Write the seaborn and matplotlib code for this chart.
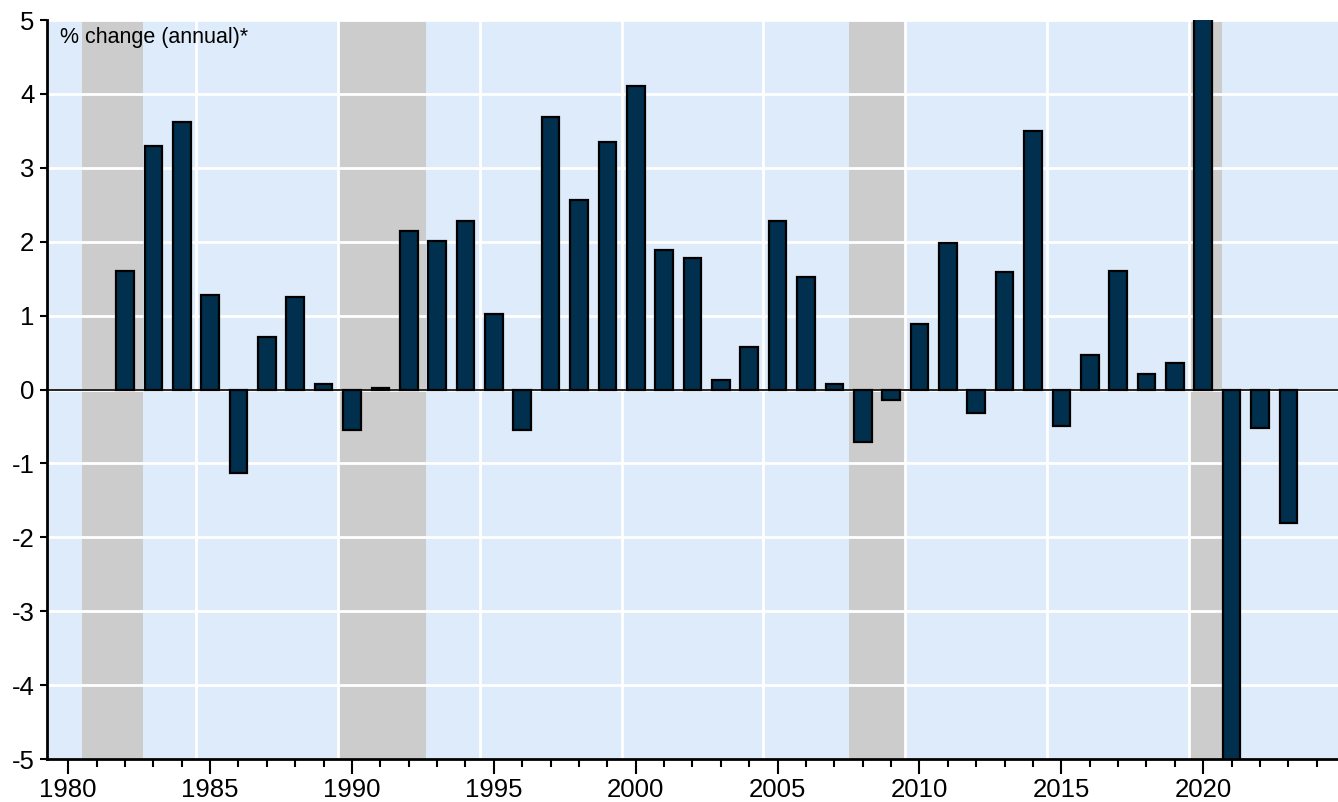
import numpy as np
import pandas as pd
import matplotlib
matplotlib.use("Agg")
import matplotlib.pyplot as plt
from matplotlib.ticker import MultipleLocator
import seaborn as sns

years = list(range(1982, 2024))
pct_change = [1.60, 3.30, 3.62, 1.28, -1.13, 0.71, 1.25, 0.07, -0.55, 0.02,
              2.14, 2.01, 2.28, 1.02, -0.55, 3.69, 2.56, 3.35, 4.11, 1.89,
              1.78, 0.13, 0.58, 2.28, 1.52, 0.07, -0.71, -0.14, 0.89, 1.98,
              -0.32, 1.59, 3.50, -0.49, 0.47, 1.60, 0.21, 0.36, 6.2, -6.0,
              -0.52, -1.81]
recessions = [(1980.5, 1982.65), (1989.55, 1992.6), (2007.5, 2009.5), (2019.55, 2020.65)]
y_label = "% change (annual)*"

df = pd.DataFrame({"year": years, "pct": pct_change})

sns.set_style("ticks")
plt.rcParams["font.family"] = ["Liberation Sans", "DejaVu Sans"]
plt.rcParams["axes.unicode_minus"] = False
plt.rcParams["text.color"] = "black"
plt.rcParams["xtick.color"] = "black"
plt.rcParams["ytick.color"] = "black"

fig = plt.figure(figsize=(13.38, 8.02), dpi=100)
ax = fig.add_axes([0.0351, 0.0536, 0.9649, 0.9214])
ax.set_facecolor("#deebfb")

for start, end in recessions:
    ax.axvspan(start, end, color="#cccccc", lw=0, zorder=0.3)

for yv in range(-5, 6):
    ax.axhline(yv, color="white", lw=2, zorder=0.5)
for xv in np.arange(1984.5, 2020, 5):
    ax.axvline(xv, color="white", lw=2, zorder=0.5)

sns.barplot(data=df, x="year", y="pct", native_scale=True, width=0.62,
            color="#00304d", saturation=1, edgecolor="black", linewidth=1.6,
            errorbar=None, zorder=2, ax=ax)
ax.axhline(0, color="black", lw=1.2, zorder=3)

ax.set_xlim(1979.25, 2024.75)
ax.set_ylim(-5, 5)
ax.xaxis.set_major_locator(MultipleLocator(5))
ax.xaxis.set_minor_locator(MultipleLocator(1))
ax.yaxis.set_major_locator(MultipleLocator(1))
ax.tick_params(axis="x", which="major", length=11, width=1.5, labelsize=18.5, pad=3)
ax.tick_params(axis="x", which="minor", length=6, width=1.5)
ax.tick_params(axis="y", length=5, width=1.5, labelsize=18.5, pad=4)
ax.set_xlabel("")
ax.set_ylabel("")

for side in ["top", "right"]:
    ax.spines[side].set_visible(False)
for side in ["left", "bottom"]:
    ax.spines[side].set_linewidth(2)
    ax.spines[side].set_color("black")

ax.text(0.01, 0.99, y_label, transform=ax.transAxes, fontsize=15.5,
        ha="left", va="top", zorder=4)

fig.savefig("out.png", dpi=100)
